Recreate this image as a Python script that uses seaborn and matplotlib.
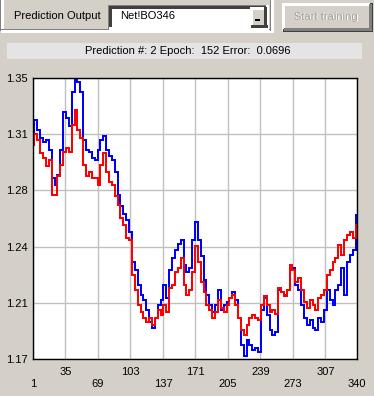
"""
Recreation of the 'Prediction Output' training window chart.
"""

import numpy as np
import pandas as pd
import matplotlib
matplotlib.use("Agg")
import matplotlib.pyplot as plt
import seaborn as sns
from matplotlib.patches import Rectangle

sns.set_style("white")
plt.rcParams['font.family'] = ['Liberation Sans', 'DejaVu Sans']
plt.rcParams['font.size'] = 8

# ---- data (sampled every 3rd step of 340) ----
step = np.arange(1, 341, 3)

target = [
    1.3148, 1.3231, 1.3167, 1.3116, 1.3090, 1.3103, 1.3039, 1.2859, 1.2815, 1.2879,
    1.3039, 1.3282, 1.3244, 1.3193, 1.3410, 1.3487, 1.3474, 1.3410, 1.3103, 1.3039,
    1.3026, 1.2988, 1.2975, 1.3039, 1.3103, 1.3128, 1.3039, 1.3000, 1.2975, 1.2898,
    1.2751, 1.2680, 1.2629, 1.2590, 1.2514, 1.2321, 1.2270, 1.2174, 1.2110, 1.2078,
    1.2014, 1.1937, 1.1899, 1.1963, 1.2046, 1.2078, 1.2174, 1.2091, 1.2270, 1.2347,
    1.2398, 1.2437, 1.2462, 1.2302, 1.2257, 1.2283, 1.2462, 1.2578, 1.2462, 1.2360,
    1.2206, 1.2110, 1.2046, 1.2001, 1.2046, 1.2142, 1.2014, 1.2046, 1.2065, 1.2091,
    1.2129, 1.2078, 1.1963, 1.1790, 1.1719, 1.1822, 1.1790, 1.1758, 1.1770, 1.1745,
    1.2014, 1.2091, 1.1982, 1.1886, 1.1854, 1.1873, 1.2142, 1.2129, 1.2110, 1.2142,
    1.2302, 1.2283, 1.2174, 1.2142, 1.2046, 1.1963, 1.1918, 1.1950, 1.1899, 1.1886,
    1.1963, 1.1937, 1.2014, 1.2142, 1.2078, 1.2046, 1.2142, 1.2174, 1.2283, 1.2110,
    1.2321, 1.2366, 1.2398, 1.2622,
]

output = [
    1.3071, 1.3141, 1.3103, 1.3020, 1.2988, 1.2936, 1.2975, 1.2751, 1.2751, 1.2872,
    1.2943, 1.3026, 1.3052, 1.3026, 1.3199, 1.3295, 1.3167, 1.3116, 1.2943, 1.2872,
    1.2898, 1.2859, 1.2859, 1.2815, 1.2943, 1.3020, 1.2898, 1.2834, 1.2815, 1.2744,
    1.2686, 1.2603, 1.2558, 1.2475, 1.2462, 1.2238, 1.2142, 1.2046, 1.2001, 1.1963,
    1.1937, 1.1963, 1.1918, 1.1963, 1.2014, 1.1982, 1.2046, 1.2001, 1.2155, 1.2174,
    1.2257, 1.2283, 1.2347, 1.2174, 1.2110, 1.2142, 1.2257, 1.2424, 1.2321, 1.2193,
    1.2129, 1.2046, 1.2014, 1.1963, 1.2001, 1.2078, 1.2027, 1.2001, 1.2046, 1.2091,
    1.2110, 1.2046, 1.1963, 1.1886, 1.1854, 1.1918, 1.1963, 1.1982, 1.1963, 1.1950,
    1.2046, 1.2104, 1.2046, 1.2001, 1.2014, 1.1988, 1.2155, 1.2129, 1.2104, 1.2142,
    1.2302, 1.2270, 1.2193, 1.2219, 1.2142, 1.2065, 1.2027, 1.2078, 1.2046, 1.2014,
    1.2091, 1.2110, 1.2142, 1.2238, 1.2270, 1.2321, 1.2347, 1.2430, 1.2366, 1.2462,
    1.2494, 1.2514, 1.2475, 1.2558,
]

x_ticks_low = [1, 69, 137, 205, 273, 340]
x_ticks_high = [35, 103, 171, 239, 307]
y_ticks = [1.17, 1.206, 1.242, 1.278, 1.314, 1.35]
y_labels = ['1.17', '1.21', '1.24', '1.28', '1.31', '1.35']

status_text = "Prediction #: 2 Epoch:  152 Error:  0.0696"

BG = '#d4d0c8'
W, H = 374, 396

fig = plt.figure(figsize=(W / 100, H / 100), dpi=100, facecolor=BG)

# ---- window chrome (pixel coordinates) ----
ui = fig.add_axes([0, 0, 1, 1])
ui.set_xlim(0, W)
ui.set_ylim(H, 0)
ui.axis('off')


def hline(x0, x1, y, color):
    ui.plot([x0, x1], [y, y], color=color, lw=0.75, antialiased=False, solid_capstyle='butt')


def vline(x, y0, y1, color):
    ui.plot([x, x], [y0, y1], color=color, lw=0.75, antialiased=False, solid_capstyle='butt')


# group box (etched)
vline(1.5, 0, 30, '#808080')
vline(2.5, 0, 29, 'white')
hline(1.5, 272, 29.5, '#808080')
hline(1.5, 273, 30.5, 'white')
vline(271.5, 0, 30, '#808080')
vline(272.5, 0, 31, 'white')

# combo box
ui.add_patch(Rectangle((109, 5), 159, 23, facecolor='white', edgecolor='none'))
hline(109, 268, 5.5, '#808080')
vline(109.5, 5, 28, '#808080')
hline(110, 267, 6.5, '#404040')
vline(110.5, 6, 27, '#404040')
hline(109, 268, 27.5, 'white')
vline(267.5, 5, 28, 'white')
ui.text(120, 16, "Net!BO346", ha='left', va='center', fontsize=8, color='black')

# drop-down button
ui.add_patch(Rectangle((251, 7), 16, 20, facecolor=BG, edgecolor='none'))
hline(251, 266, 7.5, 'white')
vline(251.5, 7, 26, 'white')
hline(251, 267, 25.5, '#404040')
vline(265.5, 7, 26, '#404040')
ui.add_patch(Rectangle((255, 19), 5, 2, facecolor='black', edgecolor='none'))

# disabled "Start training" button
hline(283, 372, 3.5, 'white')
vline(283.5, 3, 30, 'white')
hline(283, 372, 29.5, '#404040')
vline(371.5, 3, 30, '#404040')
hline(284, 371, 28.5, '#808080')
vline(370.5, 4, 29, '#808080')
ui.text(327, 17.5, "Start training", ha='center', va='center', fontsize=8, color='white')
ui.text(326, 16.5, "Start training", ha='center', va='center', fontsize=8, color='#a0a0a0')

ui.text(14, 16, "Prediction Output", ha='left', va='center', fontsize=8, color='black')

# status bar
ui.add_patch(Rectangle((7, 43), 355, 16, facecolor='#e4e4e4', edgecolor='none'))
ui.text(188, 51, status_text, ha='center', va='center', fontsize=8, color='black')

# ---- chart ----
ax = fig.add_axes([33 / W, 37 / H, 324 / W, 281 / H])
ax.set_facecolor('white')

df = pd.DataFrame({'step': step, 'target': target, 'output': output})
sns.lineplot(data=df, x='step', y='target', color='#0000ff', lw=1.1,
             drawstyle='steps-mid', antialiased=False, ax=ax)
sns.lineplot(data=df, x='step', y='output', color='#ff0000', lw=1.1,
             drawstyle='steps-mid', antialiased=False, ax=ax)

ax.set_xlim(1, 340)
ax.set_ylim(1.17, 1.35)
ax.set_xlabel('')
ax.set_ylabel('')

ax.set_xticks(x_ticks_low)
ax.set_xticklabels([str(t) for t in x_ticks_low])
ax.set_xticks(x_ticks_high, minor=True)
ax.set_xticklabels([str(t) for t in x_ticks_high], minor=True)
ax.set_yticks(y_ticks)
ax.set_yticklabels(y_labels)

ax.tick_params(which='both', length=0, labelsize=8, colors='black')
ax.tick_params(axis='x', which='major', pad=14.4)
ax.tick_params(axis='x', which='minor', pad=5.6)
ax.tick_params(axis='y', pad=3.6)

ax.set_axisbelow(True)
ax.grid(True, which='both', axis='x', color='#c0c0c0', lw=1.0)
ax.grid(True, which='major', axis='y', color='#c0c0c0', lw=1.0)

for side in ['left', 'right', 'top', 'bottom']:
    ax.spines[side].set_visible(True)
    ax.spines[side].set_color('black')
    ax.spines[side].set_linewidth(1.0)

fig.savefig('out.png', dpi=100, facecolor=BG)
